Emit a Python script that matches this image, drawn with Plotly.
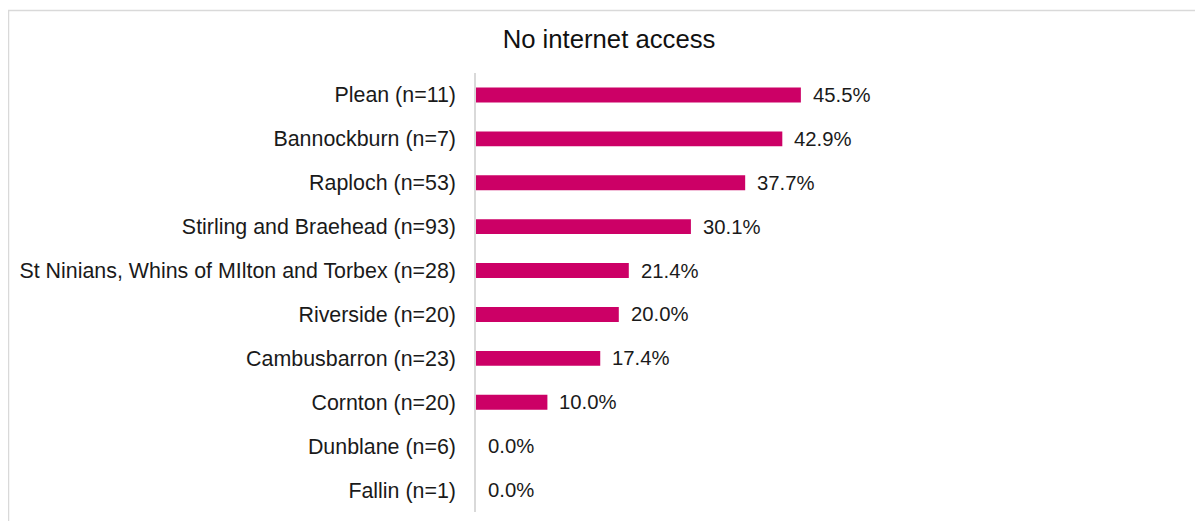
import plotly.graph_objects as go

categories = [
    "Plean (n=11)",
    "Bannockburn (n=7)",
    "Raploch (n=53)",
    "Stirling and Braehead (n=93)",
    "St Ninians, Whins of MIlton and Torbex (n=28)",
    "Riverside (n=20)",
    "Cambusbarron (n=23)",
    "Cornton (n=20)",
    "Dunblane (n=6)",
    "Fallin (n=1)",
]
values = [0.455, 0.429, 0.377, 0.301, 0.214, 0.200, 0.174, 0.100, 0.0, 0.0]
title_text = "No internet access"

# page has an 8px body margin; figure coords = page coords - 8
W, H = 1195, 513
L, R, T, B = 468, 13, 65, 9
plot_w = W - L - R
plot_h = H - T - B

FONT = "Liberation Sans, Arial"

fig = go.Figure()
fig.add_trace(go.Bar(
    x=values, y=categories, orientation="h",
    marker=dict(color="#CC0066", line=dict(width=0)),
    hoverinfo="skip",
))

for c, v in zip(categories, values):
    fig.add_annotation(
        x=v, y=c, xref="x", yref="y",
        text=f"{v*100:.1f}%", showarrow=False,
        xanchor="left", yanchor="middle", xshift=10,
        font=dict(family=FONT, size=20.3, color="#1a1a1a"),
    )

def px2paper_x(px):
    return (px - L) / plot_w

def px2paper_y(py):
    return (H - B - py) / plot_h

fig.add_shape(
    type="rect", xref="paper", yref="paper",
    x0=px2paper_x(0.5), x1=px2paper_x(1200), y0=px2paper_y(530), y1=px2paper_y(2.5),
    line=dict(color="#d9d9d9", width=1.5), fillcolor="rgba(0,0,0,0)", layer="below",
)

fig.update_layout(
    width=W, height=H,
    margin=dict(l=L, r=R, t=T, b=B, autoexpand=False),
    paper_bgcolor="white", plot_bgcolor="white",
    bargap=0.66,
    showlegend=False,
    title=dict(
        text=title_text, x=601 / W, xref="container", xanchor="center",
        y=1 - 31 / H, yref="container", yanchor="middle",
        font=dict(family=FONT, size=25.7, color="#111111"),
    ),
    xaxis=dict(range=[0, 1], visible=False, fixedrange=True),
    yaxis=dict(
        autorange="reversed", showline=True, linecolor="#d9d9d9", linewidth=1.5,
        showgrid=False, zeroline=False, ticks="", ticklabelstandoff=14,
        tickfont=dict(family=FONT, size=21.4, color="#1a1a1a"),
    ),
)

fig.write_html("out.html")
